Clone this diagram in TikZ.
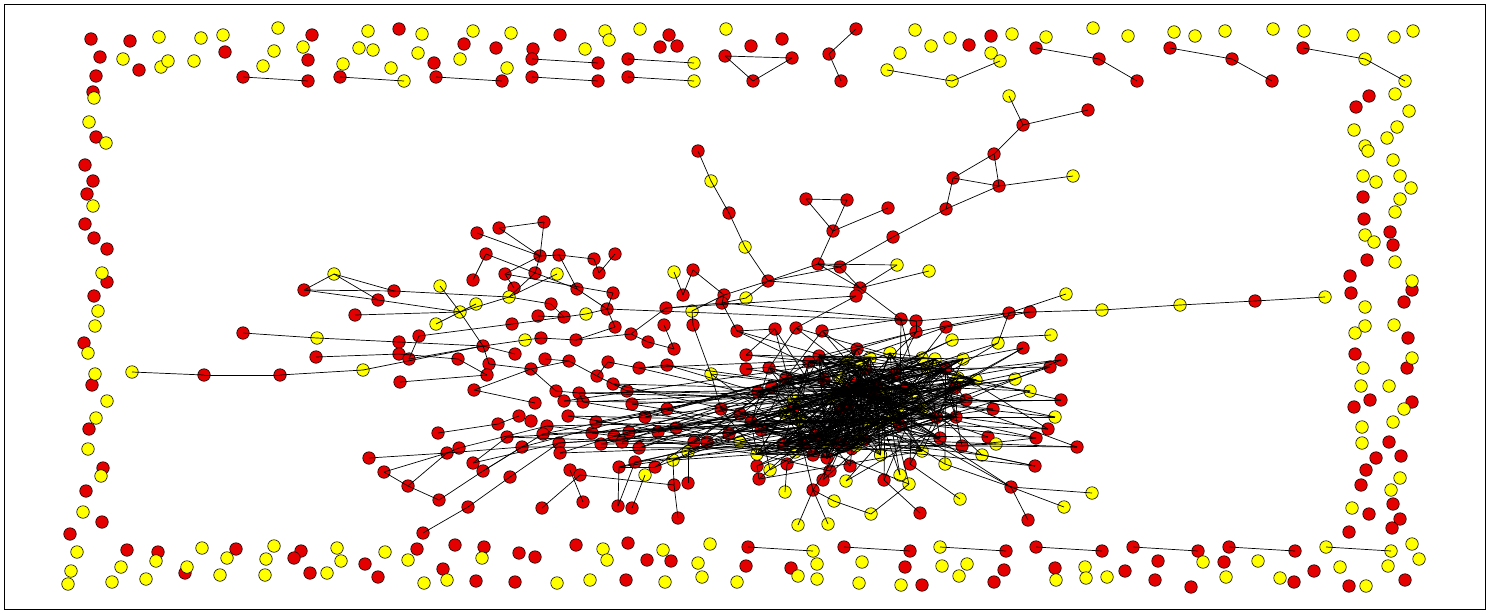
\documentclass[tikz,border=0pt]{standalone}
\usetikzlibrary{backgrounds}
\pgfdeclarelayer{back}
\pgfdeclarelayer{fg}
\pgfsetlayers{back,main,fg}
\definecolor{myred}{RGB}{228,0,0}
\definecolor{myyellow}{RGB}{255,255,0}
\tikzset{
  rn/.style={circle,draw=black,line width=0.6pt,fill=myred,minimum size=12.5pt,inner sep=0pt},
  yn/.style={circle,draw=black,line width=0.6pt,fill=myyellow,minimum size=12.5pt,inner sep=0pt},
  lnk/.style={draw=black,line width=0.7pt}
}
\begin{document}
\begin{tikzpicture}[x=1pt,y=-1pt]
\pgfmathsetseed{7}
\useasboundingbox (0,0) rectangle (1490,613);
\begin{pgfonlayer}{back}
\fill[white] (0,0) rectangle (1490,613);
\draw[line width=1pt] (4,4) rectangle (1485,609);
\end{pgfonlayer}
% red nodes
\foreach \x/\y in {91/39, 130/41, 312/35, 100/57, 139/70, 225/52, 308/60, 243/77, 308/81, 340/77, 96/76, 93/92, 96/137, 85/165, 93/181, 87/194,
399/29, 560/35, 669/35, 660/47, 677/46, 751/46, 464/44, 496/48, 533/49, 434/63, 532/59, 598/63, 628/59, 436/77, 502/81, 532/77, 598/81, 628/77, 725/56, 698/151,
782/39, 792/58, 753/81, 856/29, 829/54, 841/81, 969/45, 991/36, 1036/48, 1099/59, 1023/125, 1088/110, 994/154, 953/178, 999/186, 946/209, 806/199, 847/200, 888/208,
1170/48, 1232/59, 1272/81, 1137/81, 1303/48, 1369/96, 1356/107, 1363/197,
1364/219, 1390/232, 1393/245, 1367/260, 1350/276, 1412/290, 1351/293, 1404/302, 1408/338, 1355/354, 1407/368, 1370/400, 1354/407, 1412/402, 1255/301, 1030/312,
1389/442, 1376/458, 1401/456, 1366/470, 1361/485, 1393/504, 1369/514, 1400/519, 1392/528, 1349/532, 1405/580, 1349/586, 1314/571, 1229/547, 1295/551, 1133/547, 1198/551, 1224/562, 1158/561, 1125/571, 1155/580, 1191/587, 1294/582,
748/547, 844/547, 910/551, 1006/551, 1036/547, 1102/551, 746/566, 791/568, 905/567, 922/585, 1004/570, 994/582, 1055/568,
417/549, 455/545, 484/547, 519/553, 535/557, 576/545, 628/543, 647/560, 671/561, 443/569, 378/577, 476/581, 515/582, 626/580,
89/429, 103/468, 86/491, 102/522, 70/534, 127/550, 158/552, 185/573, 236/549, 301/551, 294/558, 310/573, 365/564,
85/224, 94/238, 107/249, 107/282, 94/296, 84/343, 92/385,
304/290, 355/315, 243/333, 316/357, 204/375, 280/375,
477/233, 499/228, 544/222, 486/254, 540/256, 559/255, 594/259, 615/254, 473/280, 505/274, 535/273, 599/273, 514/288, 577/289, 613/293, 551/304, 538/316, 564/317, 607/309, 394/291, 378/300, 512/324, 615/327, 419/336, 399/342, 399/354, 409/359, 541/338, 576/340, 483/346, 515/354, 458/359, 545/359, 569/361, 489/364, 487/375, 531/369, 608/362, 597/376, 631/334, 648/342, 674/349, 664/325, 666/308, 683/295, 693/270, 693/325, 724/295, 722/303, 737/331, 729/213, 746/355, 746/369, 639/368, 667/365, 613/384, 627/391, 400/382, 474/390, 556/391, 579/393, 564/401, 535/403, 583/402, 632/404, 667/409, 721/409,
833/231, 893/237, 818/264, 840/267, 768/281, 860/288, 856/296, 901/319, 916/321, 916/332, 946/327, 1009/313, 1023/348, 1061/360, 1050/367, 775/329, 796/328, 822/331, 1061/400, 993/409,
438/433, 498/424, 519/416, 531/421, 547/426, 568/416, 507/437, 522/447, 543/434, 559/443, 560/453, 447/453, 459/448, 369/458, 384/472, 408/486, 439/500, 473/463, 483/471, 510/477, 468/507, 423/533, 570/470, 580/475, 542/508, 583/502, 618/506, 632/508, 619/467, 635/462, 655/467, 674/485, 688/483, 678/518, 601/444, 592/433, 614/436, 622/442, 629/432, 639/448, 658/432, 676/428, 596/422, 645/417, 694/442, 707/442, 729/434, 740/414,
1048/429, 1036/438, 988/437, 962/446, 1077/447, 1035/466, 910/464, 1011/487, 1028/520, 920/513, 884/480, 850/466, 830/471, 823/480, 813/490, 787/464, 757/466, 759/479}
  \node[rn] (n\x-\y) at (\x,\y) {};
% yellow nodes
\foreach \x/\y in {159/37, 201/38, 223/35, 278/28, 368/31, 123/59, 161/67, 168/61, 194/61, 274/51, 303/47, 359/48, 373/50, 263/66, 343/64, 404/81, 94/98, 89/122, 106/143, 93/206,
422/34, 473/31, 511/33, 605/31, 609/40, 640/29, 726/29, 418/53, 585/49, 391/68, 460/59, 507/68, 694/63, 694/81, 711/181,
915/30, 900/53, 931/46, 950/38, 1012/34, 991/53, 1000/61, 1046/37, 1093/28, 887/70, 952/81, 1009/96, 1073/176,
1128/36, 1174/32, 1195/36, 1225/31, 1273/29, 1304/31, 1353/35, 1394/37, 1413/31, 1365/59, 1405/81, 1395/94, 1409/111, 1397/127, 1354/130, 1387/138, 1365/146, 1368/151, 1393/160, 1363/176, 1376/182, 1400/176, 1411/188, 1400/199,
1395/212, 1365/235, 1374/242, 1395/262, 1412/281, 1365/307, 1365/326, 1355/333, 1394/325, 1412/358, 1363/368, 1361/386, 1389/386, 1404/409, 1325/297, 1180/305, 1102/310,
1362/427, 1393/422, 1362/443, 1400/478, 1391/490, 1352/508, 1412/544, 1419/559, 1326/547, 1391/551, 1388/566, 1340/567, 1366/586, 1203/562, 1258/561, 1226/577, 1280/578,
813/551, 940/547, 798/576, 817/564, 817/579, 862/562, 859/583, 901/585, 942/566, 967/564, 959/576, 1056/580, 1085/567, 1086/578, 1107/577,
385/552, 482/558, 603/549, 607/560, 663/550, 710/544, 698/563, 408/560, 424/583, 447/580, 557/583, 590/580, 665/582, 702/577, 737/582,
96/418, 88/449, 101/476, 83/512, 77/552, 71/571, 68/584, 121/567, 112/582, 156/561, 146/579, 187/567, 202/548, 227/558, 220/575, 274/546, 266/559, 265/575, 327/573, 337/548, 341/561,
102/273, 98/311, 95/326, 88/353, 95/374, 107/401, 334/274, 317/338, 132/372, 363/370,
557/274, 509/297, 440/286, 476/304, 460/312, 436/324, 586/314, 525/340, 674/272, 692/311, 745/247, 746/298, 711/374,
897/265, 929/271, 1066/294, 952/340, 1051/335, 998/343, 1015/379, 1030/391,
645/475, 673/460, 688/452, 740/442,
1055/417, 996/444, 982/455, 945/464, 1092/493, 1064/507, 960/499, 900/475, 909/484, 871/514, 834/501, 846/481, 798/525, 828/524, 785/492, 770/470}
  \node[yn] (n\x-\y) at (\x,\y) {};
% dense cluster: named nodes
\foreach \x/\y/\c [count=\i] in {857/349/rn, 819/356/rn, 809/362/rn, 769/368/rn, 866/369/rn, 895/374/rn, 786/378/rn, 758/392/rn, 848/361/yn, 870/358/yn, 890/353/yn, 922/358/yn, 935/359/yn, 927/369/yn, 783/444/rn, 803/445/rn, 815/435/rn, 827/458/rn, 813/455/rn, 751/422/rn, 761/430/rn, 795/452/yn, 757/454/yn, 940/438/rn, 922/451/yn, 956/417/rn, 963/359/yn, 958/378/yn, 976/380/yn, 955/388/rn, 966/400/rn}
  \node[\c,alias=n\x-\y] (k\i) at (\x,\y) {};
\foreach \i in {32,...,71}{
  \pgfmathsetmacro\px{865+100*(rnd+rnd-1)}
  \pgfmathsetmacro\py{410+50*(rnd+rnd-1)}
  \ifodd\i \node[rn] (k\i) at (\px,\py) {};\else \node[yn] (k\i) at (\px,\py) {};\fi
}
\begin{pgfonlayer}{fg}
\foreach \a/\b/\c/\d in {243/77/308/81, 340/77/404/81, 436/77/502/81, 532/59/598/63, 532/77/598/81, 628/59/694/63, 628/77/694/81,
725/56/792/58, 792/58/753/81, 725/56/753/81, 856/29/829/54, 829/54/841/81, 887/70/952/81, 952/81/1000/61,
1036/48/1099/59, 1099/59/1137/81, 1170/48/1232/59, 1232/59/1272/81, 1303/48/1365/59, 1365/59/1405/81,
1009/96/1023/125, 1023/125/1088/110, 1023/125/994/154, 994/154/953/178, 994/154/999/186, 953/178/999/186, 999/186/1073/176, 953/178/946/209, 999/186/946/209, 946/209/893/237,
698/151/711/181, 711/181/729/213, 729/213/745/247, 745/247/768/281,
806/199/847/200, 806/199/833/231, 847/200/833/231, 833/231/888/208, 833/231/818/264,
893/237/840/267, 818/264/840/267, 818/264/768/281, 840/267/768/281, 818/264/897/265, 818/264/860/288, 840/267/860/288, 768/281/860/288, 860/288/929/271, 860/288/897/265, 860/288/901/319, 856/296/796/328, 768/281/746/298, 768/281/724/295,
1030/312/1102/310, 1102/310/1180/305, 1180/305/1255/301, 1255/301/1325/297,
1009/313/1066/294, 1009/313/1030/312, 916/321/1009/313, 916/332/1009/313, 901/319/916/321, 916/321/916/332, 946/327/1030/312, 1009/313/998/343, 952/340/1051/335, 916/332/857/349, 916/332/895/374, 901/319/822/331,
748/547/813/551, 844/547/910/551, 940/547/1006/551, 1036/547/1102/551, 1133/547/1198/551, 1229/547/1295/551, 1326/547/1391/551,
132/372/204/375, 204/375/280/375, 280/375/363/370, 363/370/483/346,
334/274/304/290, 304/290/394/291, 334/274/378/300, 334/274/394/291, 355/315/460/312, 243/333/317/338, 317/338/399/342, 316/357/399/354, 304/290/378/300,
477/233/540/256, 499/228/544/222, 544/222/540/256, 499/228/540/256, 540/256/559/255, 559/255/594/259, 540/256/505/274, 540/256/535/273, 486/254/473/280, 486/254/577/289, 594/259/599/273, 615/254/599/273, 559/255/577/289, 505/274/613/293, 535/273/509/297, 509/297/557/274, 505/274/514/288,
440/286/460/312, 460/312/476/304, 460/312/436/324, 460/312/509/297, 394/291/509/297, 378/300/460/312, 460/312/483/346, 509/297/551/304, 551/304/564/317, 538/316/564/317, 564/317/586/314, 586/314/607/309, 607/309/613/293, 607/309/615/327, 577/289/607/309, 512/324/564/317,
525/340/541/338, 541/338/576/340, 576/340/615/327, 576/340/631/334, 631/334/666/308, 631/334/648/342, 648/342/674/349, 664/325/674/349, 483/346/525/340, 483/346/515/354, 483/346/489/364, 419/336/409/359, 399/342/483/346,
489/364/531/369, 531/369/569/361, 545/359/569/361, 569/361/597/376, 597/376/608/362, 608/362/639/368, 639/368/667/365, 597/376/613/384, 613/384/627/391, 474/390/531/369, 400/382/487/375, 531/369/556/391, 556/391/579/393, 579/393/583/402,
683/295/674/272, 683/295/693/270, 693/270/724/295, 724/295/722/303, 666/308/722/303, 722/303/746/298, 722/303/737/331, 693/325/692/311, 692/311/724/295, 693/325/711/374, 711/374/721/409,
666/308/856/296, 722/303/901/319, 737/331/775/329, 399/354/458/359, 458/359/487/375, 409/359/483/346, 419/336/512/324, 474/390/535/403, 607/309/916/321,
775/329/746/355, 796/328/769/368, 822/331/786/378,
438/433/498/424, 498/424/519/416, 369/458/447/453, 384/472/447/453, 384/472/408/486, 408/486/447/453, 408/486/439/500, 439/500/483/471, 473/463/507/437, 447/453/522/447, 459/448/547/426, 483/471/522/447, 423/533/468/507, 468/507/510/477, 510/477/559/443, 542/508/580/475, 583/502/570/470, 618/506/635/462, 618/506/619/467, 632/508/645/475, 580/475/674/485, 674/485/678/518, 674/485/673/460, 688/483/688/452, 619/467/655/467, 473/463/559/443, 483/471/543/434, 447/453/459/448,
813/490/798/525, 813/490/828/524, 813/490/834/501, 834/501/871/514, 871/514/909/484, 884/480/920/513, 1011/487/1092/493, 1011/487/1064/507, 1011/487/1028/520, 1011/487/945/464, 1035/466/982/455, 1077/447/996/444, 1036/438/962/446, 1048/429/956/417, 1055/417/956/417, 787/464/785/492, 757/466/759/479, 960/499/910/464,
1061/360/958/378, 1050/367/927/369, 1030/391/955/388, 1061/400/966/400, 1023/348/963/359}
  \draw[lnk] (n\a-\b.center) -- (n\c-\d.center);
% dense mesh inside the cluster
\foreach \i in {1,...,380}{
  \pgfmathrandominteger{\ka}{1}{71}
  \pgfmathrandominteger{\kb}{1}{71}
  \draw[lnk] (k\ka.center) -- (k\kb.center);
}
% links from surrounding nodes into the cluster
\foreach \x/\y in {592/433, 601/444, 614/436, 622/442, 629/432, 639/448, 658/432, 676/428, 596/422, 645/417, 667/409, 694/442, 707/442, 729/434, 740/414, 740/442, 721/409, 688/452, 673/460, 655/467, 635/462, 619/467, 568/416, 547/426, 559/443, 560/453, 543/434, 632/404, 746/355, 746/369, 711/374, 737/331, 775/329, 796/328, 822/331, 901/319, 916/332, 946/327, 952/340, 998/343, 1023/348, 1061/360, 1050/367, 1015/379, 1030/391, 1061/400, 993/409, 1055/417, 1048/429, 1036/438, 988/437, 996/444, 962/446, 1077/447, 982/455, 945/464, 910/464, 900/475, 909/484, 884/480, 850/466, 846/481, 830/471, 823/480, 813/490, 787/464, 770/470, 757/466, 759/479, 1035/466, 1011/487, 522/447, 507/437, 583/402, 564/401, 579/393, 627/391, 613/384, 639/368, 667/365}{
  \pgfmathrandominteger{\ka}{1}{71}
  \pgfmathrandominteger{\kb}{1}{71}
  \draw[lnk] (n\x-\y.center) -- (k\ka.center);
  \draw[lnk] (n\x-\y.center) -- (k\kb.center);
}
\end{pgfonlayer}
\end{tikzpicture}
\end{document}
